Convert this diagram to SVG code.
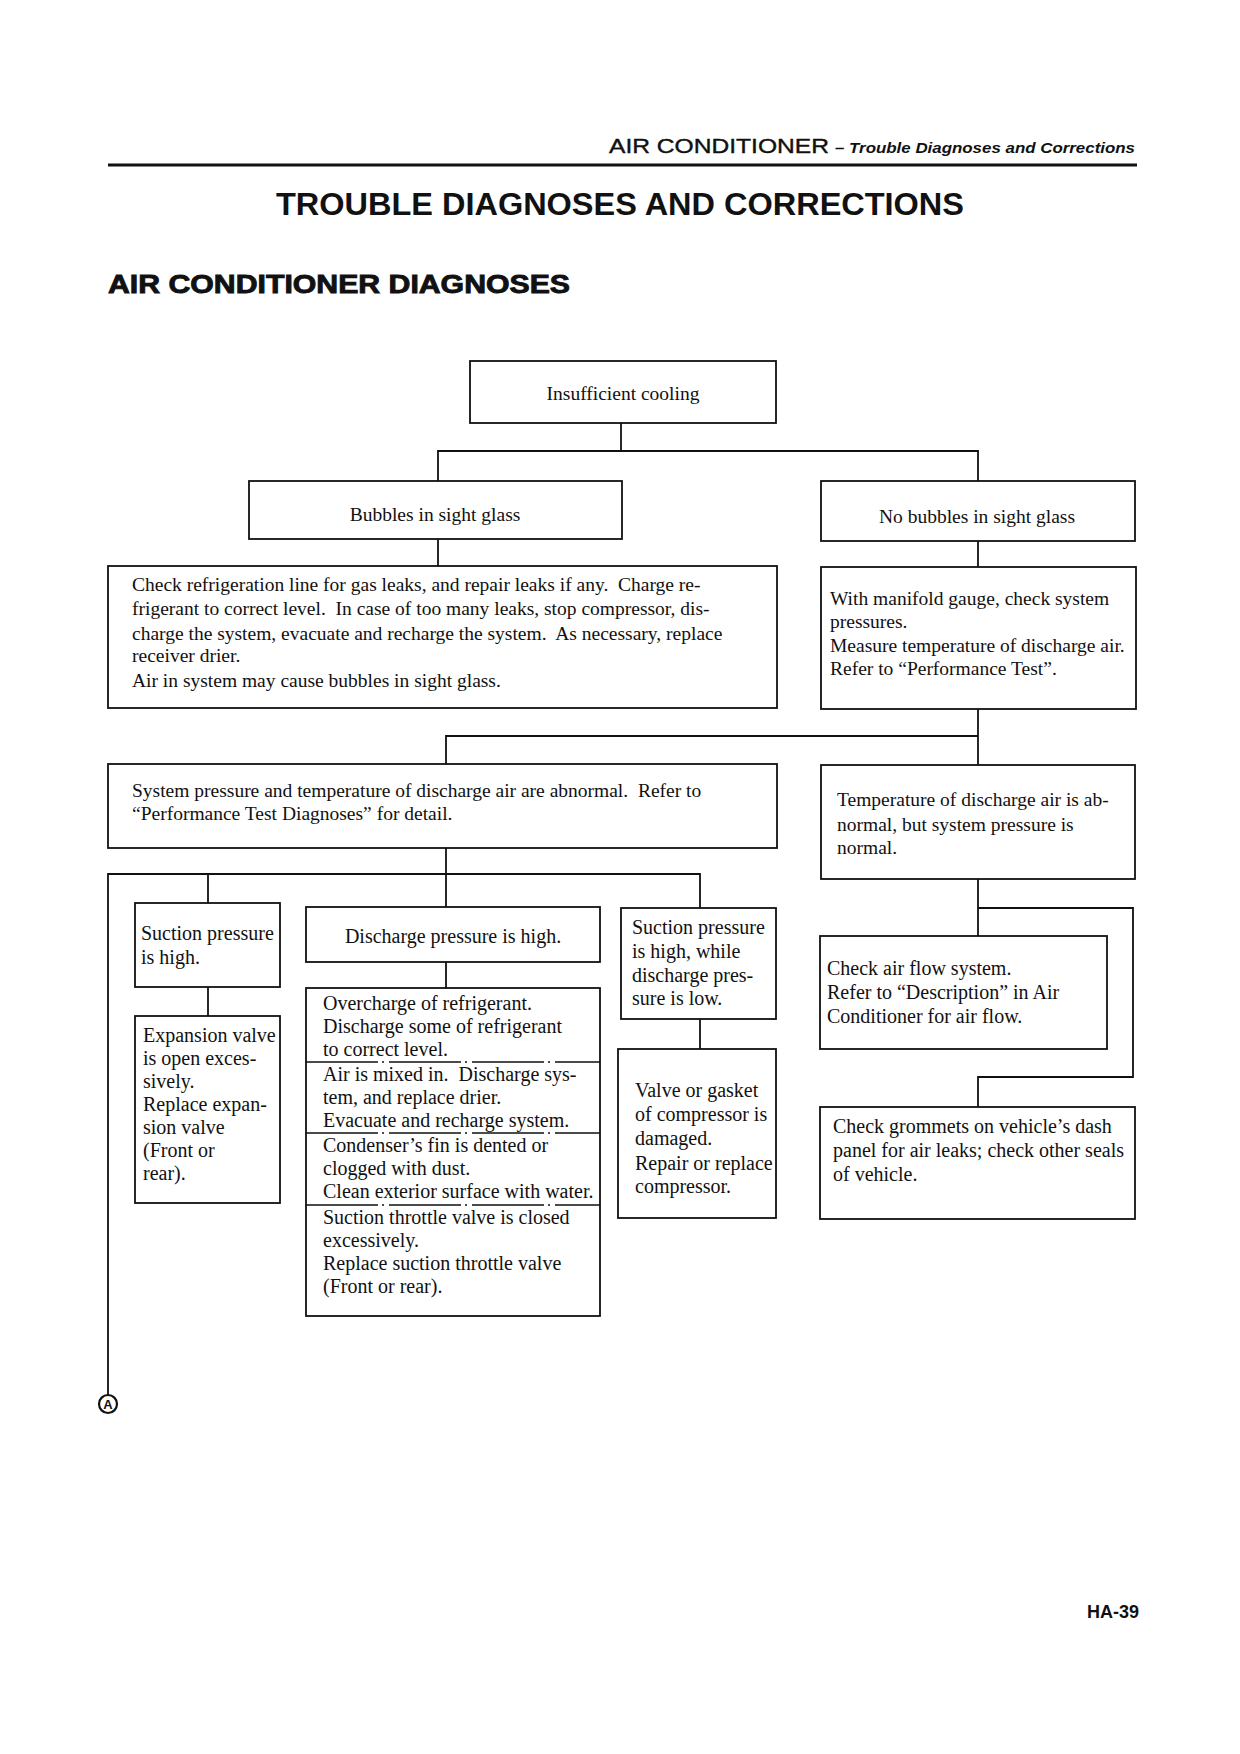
<svg xmlns="http://www.w3.org/2000/svg" width="1240" height="1754" viewBox="0 0 1240 1754">
<style>
.bg{fill:#fff}
.box{fill:none;stroke:#111;stroke-width:1.8}
.ln{fill:none;stroke:#111;stroke-width:1.8}
.dash{fill:none;stroke:#111;stroke-width:1.4;stroke-dasharray:72 4 2 5}
.t{font-family:"Liberation Serif","Times New Roman",serif;font-size:19.5px;fill:#111;white-space:pre}
.s{font-family:"Liberation Serif","Times New Roman",serif;font-size:20px;fill:#111;white-space:pre}
.c{text-anchor:middle}
.h{font-family:"Liberation Sans",Arial,sans-serif;fill:#111}
</style>
<rect class="bg" x="0" y="0" width="1240" height="1754"/>
<g id="header">
<text class="h" x="609" y="153" font-size="21" textLength="220" lengthAdjust="spacingAndGlyphs" stroke="#111" stroke-width="0.4">AIR CONDITIONER</text>
<text class="h" x="835" y="153" font-size="15" font-style="italic" font-weight="bold" textLength="300" lengthAdjust="spacingAndGlyphs">– Trouble Diagnoses and Corrections</text>
<line x1="108" y1="165" x2="1137" y2="165" stroke="#111" stroke-width="3"/>
<text class="h" x="276" y="215" font-size="31" font-weight="bold" textLength="688" lengthAdjust="spacingAndGlyphs">TROUBLE DIAGNOSES AND CORRECTIONS</text>
<text class="h" x="108" y="293" font-size="26" font-weight="900" textLength="462" lengthAdjust="spacingAndGlyphs" stroke="#111" stroke-width="0.9">AIR CONDITIONER DIAGNOSES</text>
</g>
<g id="connectors">
<polyline class="ln" points="621,423 621,451"/>
<polyline class="ln" points="438,481 438,451 978,451 978,481"/>
<polyline class="ln" points="438,539 438,566"/>
<polyline class="ln" points="978,541 978,567"/>
<polyline class="ln" points="978,709 978,765"/>
<polyline class="ln" points="978,736 446,736 446,764"/>
<polyline class="ln" points="446,848 446,907"/>
<polyline class="ln" points="108,1395 108,874 700,874 700,908"/>
<polyline class="ln" points="208,874 208,903"/>
<polyline class="ln" points="208,987 208,1016"/>
<polyline class="ln" points="446,962 446,988"/>
<polyline class="ln" points="700,1019 700,1049"/>
<polyline class="ln" points="978,879 978,936"/>
<polyline class="ln" points="978,908 1133,908 1133,1077 978,1077 978,1107"/>
</g>
<g id="n1"><rect class="box" x="470" y="361" width="306" height="62" stroke-width="2.6"/><text class="t c" x="623" y="400">Insufficient cooling</text></g>
<g id="n2"><rect class="box" x="249" y="481" width="373" height="58"/><text class="t c" x="435" y="521">Bubbles in sight glass</text></g>
<g id="n3"><rect class="box" x="821" y="481" width="314" height="60"/><text class="t c" x="977" y="523">No bubbles in sight glass</text></g>
<g id="n4"><rect class="box" x="108" y="566" width="669" height="142"/>
<text class="t" x="132" y="591">Check refrigeration line for gas leaks, and repair leaks if any.  Charge re-</text>
<text class="t" x="132" y="615">frigerant to correct level.  In case of too many leaks, stop compressor, dis-</text>
<text class="t" x="132" y="640">charge the system, evacuate and recharge the system.  As necessary, replace</text>
<text class="t" x="132" y="662">receiver drier.</text>
<text class="t" x="132" y="687">Air in system may cause bubbles in sight glass.</text></g>
<g id="n5"><rect class="box" x="821" y="567" width="315" height="142"/>
<text class="t" x="830" y="605">With manifold gauge, check system</text>
<text class="t" x="830" y="628">pressures.</text>
<text class="t" x="830" y="652">Measure temperature of discharge air.</text>
<text class="t" x="830" y="675">Refer to “Performance Test”.</text></g>
<g id="n6"><rect class="box" x="108" y="764" width="669" height="84"/>
<text class="t" x="132" y="797">System pressure and temperature of discharge air are abnormal.  Refer to</text>
<text class="t" x="132" y="820">“Performance Test Diagnoses” for detail.</text></g>
<g id="n7"><rect class="box" x="821" y="765" width="314" height="114"/>
<text class="t" x="837" y="806">Temperature of discharge air is ab-</text>
<text class="t" x="837" y="831">normal, but system pressure is</text>
<text class="t" x="837" y="854">normal.</text></g>
<g id="n8"><rect class="box" x="135" y="903" width="145" height="84"/>
<text class="s" x="141" y="940">Suction pressure</text>
<text class="s" x="141" y="964">is high.</text></g>
<g id="n9"><rect class="box" x="135" y="1016" width="145" height="187"/>
<text class="s" x="143" y="1042" font-size="19.5">Expansion valve</text>
<text class="s" x="143" y="1065">is open exces-</text>
<text class="s" x="143" y="1088">sively.</text>
<text class="s" x="143" y="1111">Replace expan-</text>
<text class="s" x="143" y="1134">sion valve</text>
<text class="s" x="143" y="1157">(Front or</text>
<text class="s" x="143" y="1180">rear).</text></g>
<g id="n10"><rect class="box" x="306" y="907" width="294" height="55"/>
<text class="s c" x="453" y="943">Discharge pressure is high.</text></g>
<g id="n11"><rect class="box" x="306" y="988" width="294" height="328"/>
<text class="s" x="323" y="1010">Overcharge of refrigerant.</text>
<text class="s" x="323" y="1033">Discharge some of refrigerant</text>
<text class="s" x="323" y="1056">to correct level.</text>
<line class="dash" x1="306" y1="1062" x2="600" y2="1062"/>
<text class="s" x="323" y="1081">Air is mixed in.  Discharge sys-</text>
<text class="s" x="323" y="1104">tem, and replace drier.</text>
<text class="s" x="323" y="1127">Evacuate and recharge system.</text>
<line class="dash" x1="306" y1="1133" x2="600" y2="1133"/>
<text class="s" x="323" y="1152">Condenser’s fin is dented or</text>
<text class="s" x="323" y="1175">clogged with dust.</text>
<text class="s" x="323" y="1198">Clean exterior surface with water.</text>
<line class="dash" x1="306" y1="1205" x2="600" y2="1205"/>
<text class="s" x="323" y="1224">Suction throttle valve is closed</text>
<text class="s" x="323" y="1247">excessively.</text>
<text class="s" x="323" y="1270">Replace suction throttle valve</text>
<text class="s" x="323" y="1293">(Front or rear).</text></g>
<g id="n12"><rect class="box" x="621" y="908" width="155" height="111"/>
<text class="s" x="632" y="934">Suction pressure</text>
<text class="s" x="632" y="958">is high, while</text>
<text class="s" x="632" y="982">discharge pres-</text>
<text class="s" x="632" y="1005">sure is low.</text></g>
<g id="n13"><rect class="box" x="618" y="1049" width="158" height="169"/>
<text class="s" x="635" y="1097">Valve or gasket</text>
<text class="s" x="635" y="1121">of compressor is</text>
<text class="s" x="635" y="1145">damaged.</text>
<text class="s" x="635" y="1170">Repair or replace</text>
<text class="s" x="635" y="1193">compressor.</text></g>
<g id="n14"><rect class="box" x="820" y="936" width="287" height="113"/>
<text class="s" x="827" y="975">Check air flow system.</text>
<text class="s" x="827" y="999">Refer to “Description” in Air</text>
<text class="s" x="827" y="1023">Conditioner for air flow.</text></g>
<g id="n15"><rect class="box" x="820" y="1107" width="315" height="112"/>
<text class="s" x="833" y="1133">Check grommets on vehicle’s dash</text>
<text class="s" x="833" y="1157">panel for air leaks; check other seals</text>
<text class="s" x="833" y="1181">of vehicle.</text></g>
<g id="nA"><circle cx="108" cy="1404" r="9" fill="none" stroke="#111" stroke-width="2.2"/>
<text class="h" x="108" y="1409" font-size="13" font-weight="bold" text-anchor="middle">A</text></g>
<g id="footer"><text class="h" x="1139" y="1618" font-size="18" font-weight="bold" text-anchor="end">HA-39</text></g>
</svg>
